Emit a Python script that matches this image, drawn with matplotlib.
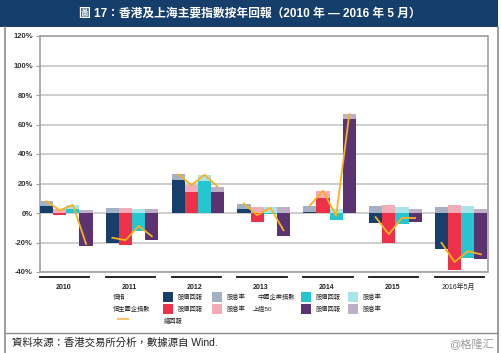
import matplotlib
matplotlib.use('Agg')
import matplotlib.pyplot as plt
from matplotlib.patches import Rectangle
from matplotlib.lines import Line2D
import matplotlib.transforms as mtransforms
import numpy as np

plt.rcParams['font.family'] = ['Liberation Sans', 'Noto Sans CJK TC', 'DejaVu Sans']

# 數據 (%)
years = ['2010', '2011', '2012', '2013', '2014', '2015', '2016年5月']
index_names = ['恒指', '恒生國企指數', '中國企業指數', '上證50']

# 股價回報
hsi_price = [5.0, -20.5, 22.5, 2.5, 1.0, -7.0, -24.3]
hscei_price = [-1.4, -22.0, 14.5, -5.9, 10.2, -20.0, -38.6]
china_price = [3.0, -12.3, 22.0, -0.4, -5.0, -7.3, -30.7]
sse50_price = [-22.7, -18.6, 14.5, -15.7, 64.0, -6.4, -31.1]

# 股息率
hsi_div = [3.0, 3.4, 3.9, 3.9, 4.0, 4.5, 3.9]
hscei_div = [3.0, 3.4, 4.4, 4.3, 5.0, 5.2, 5.7]
china_div = [2.5, 3.0, 3.9, 4.0, 2.7, 4.1, 4.8]
sse50_div = [2.0, 2.5, 3.4, 3.9, 3.0, 3.0, 3.0]

# 總回報
hsi_total = [8.0, -16.8, 26.2, 6.4, 5.0, -2.8, -20.2]
hscei_total = [1.8, -18.4, 18.9, -1.5, 15.2, -14.4, -33.2]
china_total = [5.5, -8.8, 25.9, 3.6, -1.9, -3.3, -25.9]
sse50_total = [-21.0, -15.8, 17.8, -11.7, 67.0, -3.4, -28.0]

price_list = [hsi_price, hscei_price, china_price, sse50_price]
div_list = [hsi_div, hscei_div, china_div, sse50_div]
total_list = [hsi_total, hscei_total, china_total, sse50_total]

dark_colors = ['#173f6b', '#ee3048', '#25c6cf', '#5b3370']
light_colors = ['#a2b2c4', '#f6abb6', '#a8e5eb', '#bfaec8']
line_color = '#f7b21e'

W, H = 501, 353
fig = plt.figure(figsize=(W / 100, H / 100), dpi=100)
fig.patch.set_facecolor('white')


def fx(px):
    return px / W


def fy(py):
    return 1 - py / H


# 標題欄
fig.patches.append(Rectangle((0, fy(27)), fx(498), 27 / H, transform=fig.transFigure,
                             facecolor='#163e6b', edgecolor='none', zorder=0))
fig.text(fx(250), fy(14), '圖 17：香港及上海主要指數按年回報（2010 年 — 2016 年 5 月）',
         color='white', fontsize=8.5, fontweight='bold', ha='center', va='center')

# 外框
for x0 in [5, 498]:
    fig.lines.append(Line2D([fx(x0), fx(x0)], [fy(27), 0], transform=fig.transFigure,
                            color='#8c8c8c', lw=1.2))
fig.lines.append(Line2D([fx(5), fx(498)], [fy(333), fy(333)], transform=fig.transFigure,
                        color='#8c8c8c', lw=1.0))

ax = fig.add_axes([fx(40), fy(272), fx(487.5) - fx(40), fy(36) - fy(272)])

x = np.arange(len(years))
width = 0.2
offsets = [-0.3, -0.1, 0.1, 0.3]

for i in range(4):
    price = np.array(price_list[i])
    div = np.array(div_list[i])
    ax.bar(x + offsets[i], price, width, color=dark_colors[i], zorder=3)
    ax.bar(x + offsets[i], div, width, bottom=np.maximum(price, 0),
           color=light_colors[i], zorder=3)

# 總回報線 (每年分開)
for j in range(len(years)):
    xs = [x[j] + o for o in offsets]
    ys = [total_list[i][j] for i in range(4)]
    ax.plot(xs, ys, color=line_color, lw=1.3, zorder=4)

ax.set_xlim(-0.4, len(years) - 0.6)
ax.set_ylim(-40, 120)
ax.set_yticks(np.arange(-40, 121, 20))
ax.set_yticklabels([f'{v}%' for v in range(-40, 121, 20)])
ax.set_xticks([])
ax.grid(axis='y', color='#c6c6c6', lw=1.2, zorder=0)
ax.set_axisbelow(True)
for s in ax.spines.values():
    s.set_color('#a0a0a0')
    s.set_linewidth(1.2)
ax.tick_params(axis='y', length=3, color='#a0a0a0', labelsize=5.5, pad=2,
               labelcolor='#333333')
for lab in ax.get_yticklabels():
    lab.set_fontweight('bold')

# 類別底線及標籤
trans = mtransforms.blended_transform_factory(ax.transData, ax.transAxes)
for j, yr in enumerate(years):
    ax.plot([x[j] - 0.4, x[j] + 0.35], [-0.022, -0.022], transform=trans,
            color='#111111', lw=1.3, clip_on=False)
    ax.text(x[j] - 0.05, -0.05, yr, transform=trans, ha='center', va='top',
            fontsize=5, fontweight='bold' if j < 6 else 'normal', color='#222222')

# 圖例
legend_rows = [
    (297, [(113, '恒指'), (257, '中國企業指數')]),
    (309, [(113, '恒生國企指數'), (253, '上證50')]),
]
patch_x = [(163, 0, True), (212, 0, False), (301, 2, True), (348, 2, False)]
patch_x2 = [(163, 1, True), (212, 1, False), (301, 3, True), (348, 3, False)]
for (ry, names), pxs in zip(legend_rows, [patch_x, patch_x2]):
    for nx_, name in names:
        fig.text(fx(nx_), fy(ry), name, fontsize=4.5, ha='left', va='center', color='#222222')
    for px0, idx, dark in pxs:
        col = dark_colors[idx] if dark else light_colors[idx]
        fig.patches.append(Rectangle((fx(px0), fy(ry + 5)), 10 / W, 10 / H,
                                     transform=fig.transFigure, facecolor=col,
                                     edgecolor='none'))
        fig.text(fx(px0 + 15), fy(ry), '股價回報' if dark else '股息率', fontsize=4.5,
                 ha='left', va='center', color='#222222')

fig.lines.append(Line2D([fx(118), fx(128)], [fy(319), fy(319)], transform=fig.transFigure,
                        color='#f9c46a', lw=1.5))
fig.text(fx(164), fy(321), '總回報', fontsize=4.5, ha='left', va='center', color='#222222')

# 資料來源
fig.text(fx(12), fy(343), '資料來源：香港交易所分析，數據源自 Wind.', fontsize=7.5,
         ha='left', va='center', color='#222222')
fig.text(fx(494), fy(344), '@格隆汇', fontsize=8, ha='right', va='center', color='#9a9a9a')

fig.savefig('out.png', dpi=100)
